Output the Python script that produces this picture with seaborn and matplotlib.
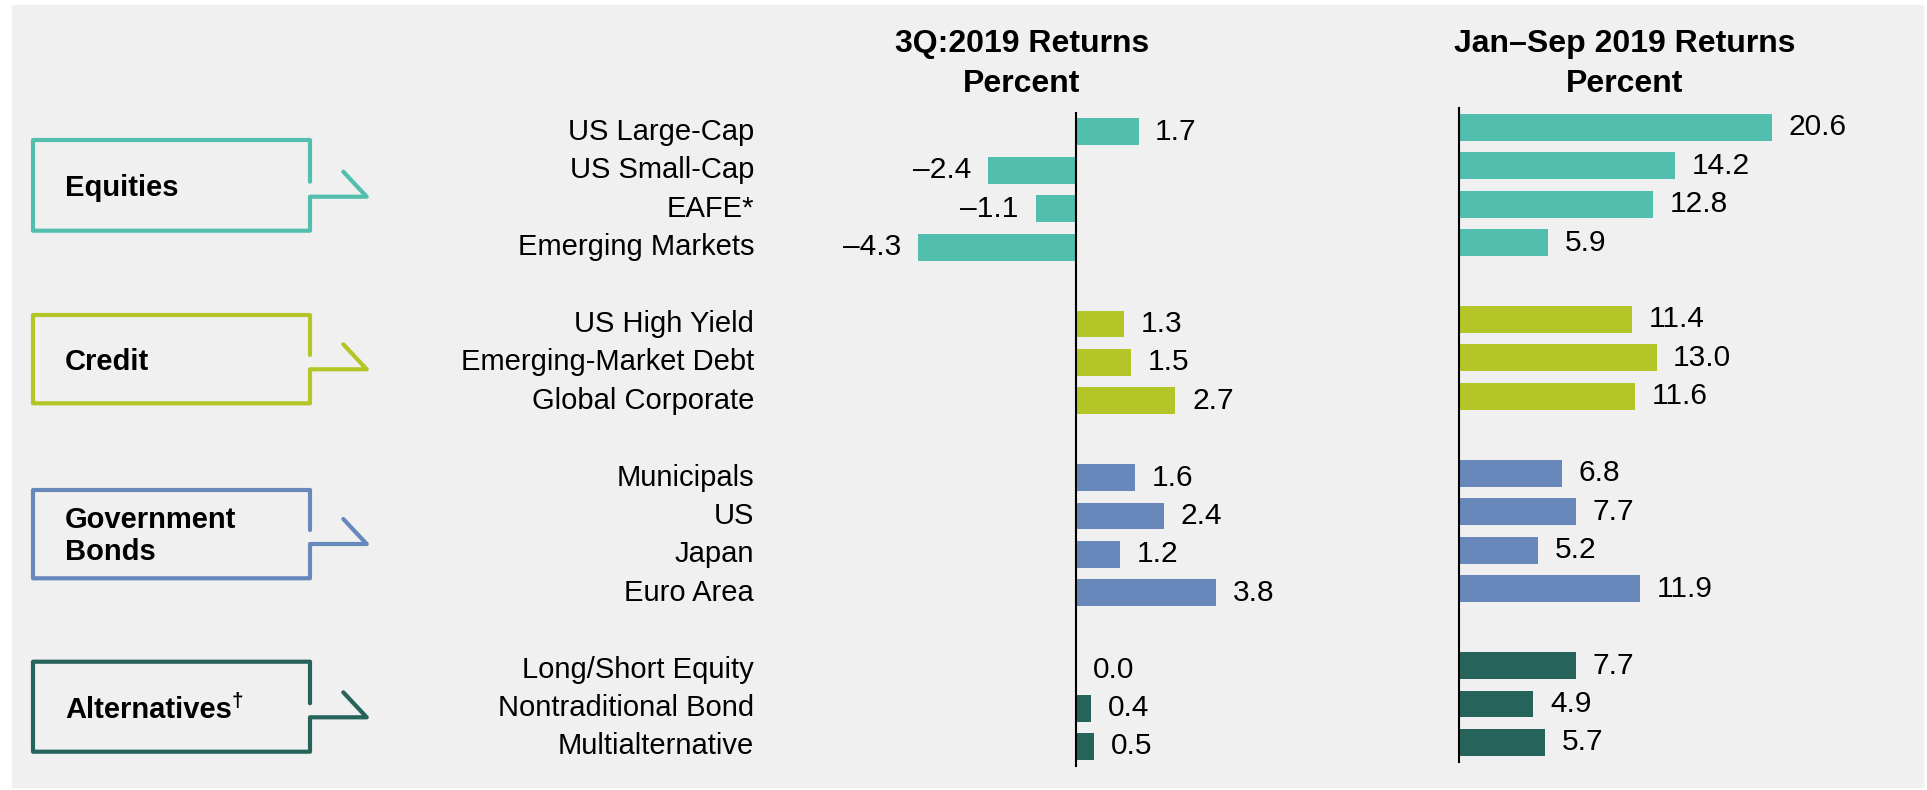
import numpy as np
import pandas as pd
import seaborn as sns
import matplotlib.pyplot as plt
from matplotlib.patches import Rectangle

# Data
groups = ["Equities", "Credit", "Government Bonds", "Alternatives"]
assets = {
    "Equities": ["US Large-Cap", "US Small-Cap", "EAFE*", "Emerging Markets"],
    "Credit": ["US High Yield", "Emerging-Market Debt", "Global Corporate"],
    "Government Bonds": ["Municipals", "US", "Japan", "Euro Area"],
    "Alternatives": ["Long/Short Equity", "Nontraditional Bond", "Multialternative"],
}
q3_returns = [1.7, -2.4, -1.1, -4.3, 1.3, 1.5, 2.7, 1.6, 2.4, 1.2, 3.8, 0.0, 0.4, 0.5]
ytd_returns = [20.6, 14.2, 12.8, 5.9, 11.4, 13.0, 11.6, 6.8, 7.7, 5.2, 11.9, 7.7, 4.9, 5.7]
group_colors = {
    "Equities": "#52bfae",
    "Credit": "#b3c527",
    "Government Bonds": "#6887bb",
    "Alternatives": "#25635b",
}
box_labels = ["Equities", "Credit", "Government\nBonds", "Alternatives"]

sns.set_theme(style="white")
plt.rcParams["font.family"] = ["Liberation Sans", "DejaVu Sans"]
plt.rcParams["text.color"] = "black"

names = [a for g in groups for a in assets[g]]
group_col = [g for g in groups for a in assets[g]]
df = pd.DataFrame({"asset": names, "group": group_col, "q3": q3_returns, "ytd": ytd_returns})

# category order with one empty slot between groups
order = []
for i, g in enumerate(groups):
    if i > 0:
        order.append(f"gap{i}")
    order.extend(assets[g])

W, H = 1927, 790
fig = plt.figure(figsize=(W / 100, H / 100), dpi=100)
fig.patch.set_facecolor("white")
fig.patches.append(Rectangle((12 / W, 1 - 787 / H), (1923 - 12) / W, (787 - 5) / H,
                             transform=fig.transFigure, color="#f0f0f0", zorder=-5))


def px_axes(x0, x1, ytop, ybot):
    return fig.add_axes([x0 / W, 1 - ybot / H, (x1 - x0) / W, (ybot - ytop) / H])


def fmt(v):
    return f"{v:.1f}".replace("-", "\u2013")


ax1 = px_axes(880, 1300, 112.7, 765.7)
ax2 = px_axes(1440, 1900, 108, 761.7)

for ax, col, xlim in [(ax1, "q3", (-5.326, 6.087)), (ax2, "ytd", (-1.229, 29.0))]:
    sns.barplot(data=df, x=col, y="asset", hue="group", order=order, hue_order=groups,
                palette=group_colors, orient="h", width=0.7, dodge=False,
                errorbar=None, legend=False, saturation=1, linewidth=0, ax=ax)
    ax.set_facecolor("none")
    ax.set_xlim(*xlim)
    ax.set_ylim(len(order) - 0.5, -0.5)
    ax.set_xlabel("")
    ax.set_ylabel("")
    ax.set_xticks([])
    ax.set_yticks([])
    for s in ["top", "right", "bottom"]:
        ax.spines[s].set_visible(False)
    ax.spines["left"].set_position(("data", 0))
    ax.spines["left"].set_color("black")
    ax.spines["left"].set_linewidth(1.5)
    for cont in ax.containers:
        ax.bar_label(cont, labels=[fmt(v) for v in cont.datavalues], padding=12,
                     fontsize=21.5, color="black")

# category labels
ytr = ax1.get_yaxis_transform()
for i, name in enumerate(order):
    if name.startswith("gap"):
        continue
    ax1.text((754 - 880) / 420, i, name, transform=ytr, ha="right", va="center",
             fontsize=21, color="black")

# panel titles
for cx, line1 in [(1021.7, "3Q:2019 Returns"), (1625, "Jan\u2013Sep 2019 Returns")]:
    fig.text(cx / W, 1 - 44 / H, line1, ha="center", va="center", fontsize=23,
             fontweight="bold", color="black")
    fig.text(cx / W, 1 - 84 / H, "Percent", ha="center", va="center", fontsize=23,
             fontweight="bold", color="black")

# group callout boxes
ov = fig.add_axes([0, 0, 1, 1])
ov.set_xlim(0, W)
ov.set_ylim(H, 0)
ov.axis("off")
ov.patch.set_alpha(0)
boxes = [(140, 230.7, 181.7, 196.7), (315, 403.3, 355, 369.3),
         (490, 578.3, 530, 544), (661.7, 751.7, 703.3, 717.3)]
xl, xr, xa, xd = 33, 310, 366.7, 343.3
text_y = [188.5, 362, 536, 709.5]
for g, lab, (top, bot, stop, hy), ty in zip(groups, box_labels, boxes, text_y):
    xs = [xr, xr, xl, xl, xr, xr, xa, xd]
    ys = [stop, top, top, bot, bot, hy, hy, hy - 25]
    ov.plot(xs, ys, color=group_colors[g], lw=3, solid_capstyle="round",
            solid_joinstyle="round")
    t = ov.text(65, ty, lab, ha="left", va="center", fontsize=21, fontweight="bold",
                linespacing=1.15, color="black")
    if g == "Alternatives":
        fig.canvas.draw()
        bb = t.get_window_extent()
        ov.text(bb.x1, ty - 8, "\u2020", ha="left", va="center", fontsize=15,
                fontweight="bold", color="black")

fig.savefig("out.png", dpi=100, facecolor=fig.get_facecolor())
